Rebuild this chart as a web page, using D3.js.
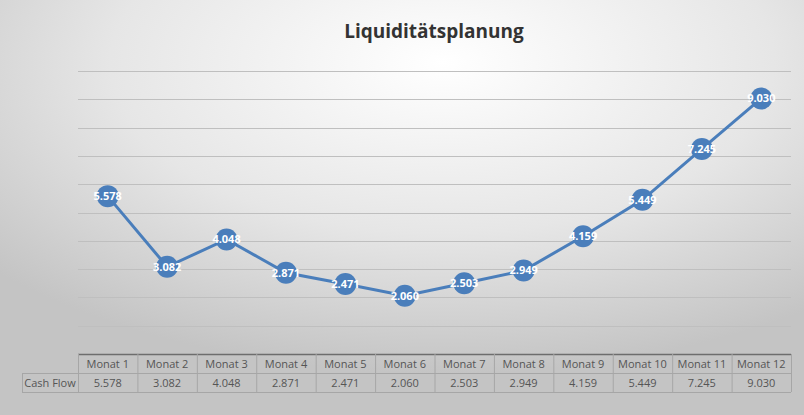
<!DOCTYPE html>
<html><head><meta charset="utf-8">
<script src="https://cdn.jsdelivr.net/npm/d3@7"></script>
<style>body{margin:0;}svg{display:block;}</style>
</head><body>
<script>
const categories = ["Monat 1","Monat 2","Monat 3","Monat 4","Monat 5","Monat 6","Monat 7","Monat 8","Monat 9","Monat 10","Monat 11","Monat 12"];
const cashFlow = [5578,3082,4048,2871,2471,2060,2503,2949,4159,5449,7245,9030];
const seriesName = "Cash Flow";
const title = "Liquiditätsplanung";
const yTicks = d3.range(0, 10001, 1000);

const W=804,H=415;
const svg=d3.select("body").append("svg").attr("width",W).attr("height",H);
const defs=svg.append("defs");
const g=defs.append("radialGradient").attr("id","bg").attr("cx","55%").attr("cy","15%").attr("r","75%");
g.append("stop").attr("offset","0%").attr("stop-color","#ffffff");
g.append("stop").attr("offset","55%").attr("stop-color","#e6e6e6");
g.append("stop").attr("offset","100%").attr("stop-color","#c4c4c4");
svg.append("rect").attr("width",W).attr("height",H).attr("fill","url(#bg)");

const fmt=d3.format(",.0f");
const de=v=>fmt(v).replace(/,/g,".");

const x0=78,x1=791,yTop=71,yBot=354;
const x=d3.scaleBand().domain(categories).range([x0,x1]);
const y=d3.scaleLinear().domain([0,10000]).range([yBot,yTop]);

svg.append("text").attr("x",434).attr("y",38).attr("text-anchor","middle")
  .attr("font-family","'Open Sans',sans-serif").attr("font-weight","bold").attr("font-size",19).attr("fill","#333").text(title);

svg.append("g").selectAll("line").data(yTicks.slice(1)).join("line")
  .attr("x1",x0).attr("x2",x1).attr("y1",d=>Math.round(y(d))+0.5).attr("y2",d=>Math.round(y(d))+0.5)
  .attr("stroke","#bfbfbf").attr("stroke-width",1);

const line=d3.line().x((d,i)=>x(categories[i])+x.bandwidth()/2).y(d=>y(d));
svg.append("path").datum(cashFlow).attr("d",line).attr("fill","none").attr("stroke","#4a7ebb").attr("stroke-width",3);
const pts=svg.append("g").selectAll("g").data(cashFlow).join("g")
  .attr("transform",(d,i)=>`translate(${x(categories[i])+x.bandwidth()/2},${y(d)})`);
pts.append("circle").attr("r",11).attr("fill","#4a7ebb");
pts.append("text").attr("text-anchor","middle").attr("dy","0.35em")
  .attr("font-family","'Open Sans',sans-serif").attr("font-weight","bold").attr("font-size",11).attr("fill","#fff").text(d=>de(d));

// table
const r1=354,r2=373,r3=392,lx=22;
const tg=svg.append("g").attr("font-family","'Open Sans',sans-serif").attr("font-size",11).attr("fill","#555");
const st="#a6a6a6";
tg.append("line").attr("x1",x0).attr("x2",x1).attr("y1",r1+0.5).attr("y2",r1+0.5).attr("stroke","#6d6d6d").attr("stroke-width",1.5);
tg.append("line").attr("x1",lx).attr("x2",x1).attr("y1",r2+0.5).attr("y2",r2+0.5).attr("stroke",st);
tg.append("line").attr("x1",lx).attr("x2",x1).attr("y1",r3+0.5).attr("y2",r3+0.5).attr("stroke",st);
tg.append("line").attr("x1",lx+0.5).attr("x2",lx+0.5).attr("y1",r2).attr("y2",r3).attr("stroke",st);
tg.selectAll("line.v").data(categories.concat(["end"])).join("line").attr("class","v")
  .attr("x1",d=>(d==="end"?x1:x(d))+0.5).attr("x2",d=>(d==="end"?x1:x(d))+0.5)
  .attr("y1",r1).attr("y2",r3).attr("stroke",st);
tg.selectAll("text.h").data(categories).join("text").attr("class","h")
  .attr("x",d=>x(d)+x.bandwidth()/2).attr("y",r1+13.5).attr("text-anchor","middle").text(d=>d);
tg.selectAll("text.v").data(cashFlow).join("text").attr("class","v")
  .attr("x",(d,i)=>x(categories[i])+x.bandwidth()/2).attr("y",r2+13.5).attr("text-anchor","middle").text(d=>de(d));
tg.append("text").attr("x",(lx+x0)/2).attr("y",r2+13.5).attr("text-anchor","middle").text(seriesName);
</script>
</body></html>
